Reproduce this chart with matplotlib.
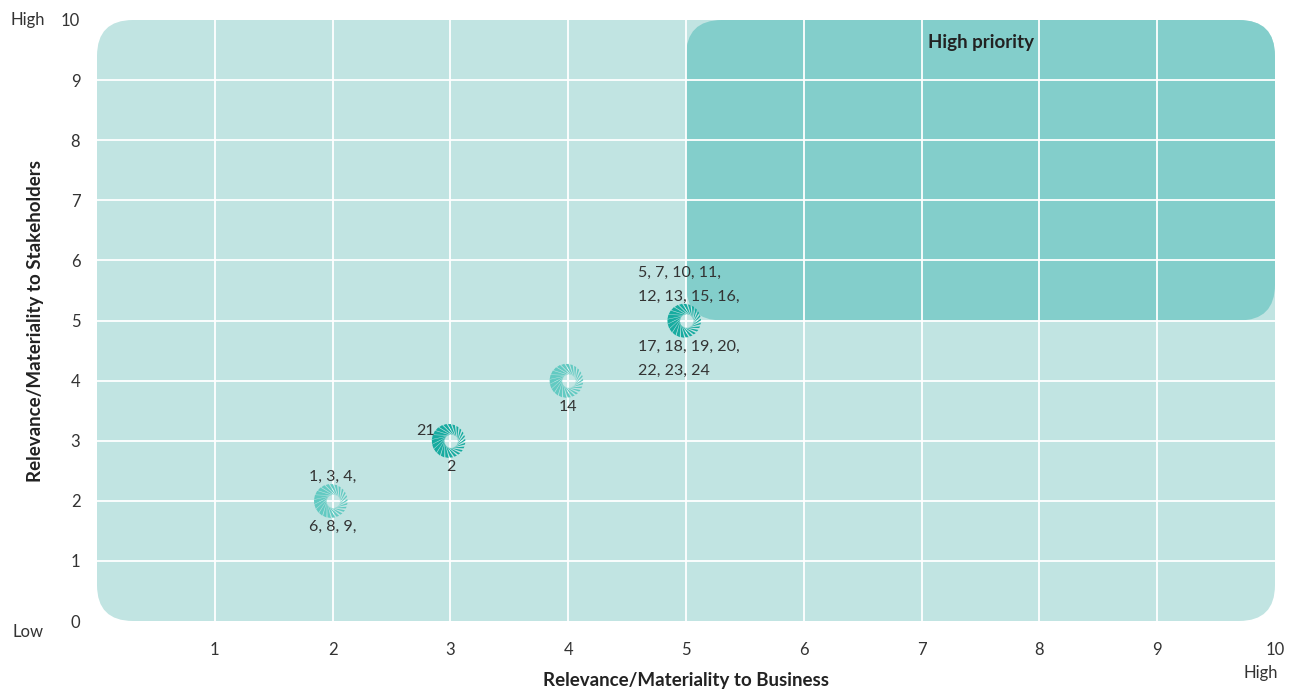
import numpy as np
import matplotlib.pyplot as plt
from matplotlib.patches import FancyBboxPatch
from matplotlib.path import Path

plt.rcParams['font.family'] = ['Lato', 'DejaVu Sans']

# Issue clusters on the materiality matrix
business = [2, 3, 4, 5]
stakeholders = [2, 3, 4, 5]
labels_above = ["1, 3, 4,", "", "", "5, 7, 10, 11,\n12, 13, 15, 16,"]
labels_below = ["6, 8, 9,", "2", "14", "17, 18, 19, 20,\n22, 23, 24"]
labels_left = ["", "21", "", ""]
marker_colors = ["#62cac2", "#17aba0", "#62cac2", "#17aba0"]

ticks_x = list(range(1, 11))
ticks_y = list(range(0, 11))

bg_light = "#c1e4e2"
bg_priority = "#83cecb"
txt = "#333333"


def swirl_marker(n=24, r_in=0.3, twist=0.85):
    # burst of slanted rays, thicker and longer on one side
    verts, codes = [], []
    for k in range(n):
        a = 2 * np.pi * k / n
        side = (1 + np.cos(a - 2.4)) / 2
        w = 0.06 + 0.06 * side
        r_out = 0.8 + 0.2 * side
        ri = r_in + 0.1 * (1 - side)
        a0, a1 = a, a + twist
        pts = [
            (ri * np.cos(a0 - w * 0.4), ri * np.sin(a0 - w * 0.4)),
            (r_out * np.cos(a1 - w), r_out * np.sin(a1 - w)),
            (r_out * np.cos(a1 + w), r_out * np.sin(a1 + w)),
            (ri * np.cos(a0 + w * 0.4), ri * np.sin(a0 + w * 0.4)),
        ]
        verts += pts + [pts[0]]
        codes += [Path.MOVETO, Path.LINETO, Path.LINETO, Path.LINETO, Path.CLOSEPOLY]
    return Path(verts, codes)


fig = plt.figure(figsize=(12.89, 6.91), dpi=100)
ax = fig.add_axes([97 / 1289, 1 - 621 / 691, 1178 / 1289, 601 / 691])
ax.set_xlim(0, 10)
ax.set_ylim(0, 10)

# rounded background panels (radius equal in pixels on both axes)
px_x = 1178 / 10
px_y = 601 / 10
aspect = px_x / px_y
ax.add_patch(FancyBboxPatch((0, 0), 10, 10, boxstyle="round,pad=0,rounding_size=%f" % (36 / px_x),
                            mutation_aspect=aspect, fc=bg_light, ec="none", zorder=0))
ax.add_patch(FancyBboxPatch((5, 5), 5, 5, boxstyle="round,pad=0,rounding_size=%f" % (36 / px_x),
                            mutation_aspect=aspect, fc=bg_priority, ec="none", zorder=0.5))

for v in ticks_x[:-1]:
    ax.axvline(v, color="white", lw=1.3, zorder=1)
for v in ticks_y[1:-1]:
    ax.axhline(v, color="white", lw=1.3, zorder=1)

ax.text(7.5, 9.62, "High priority", ha="center", va="center", fontsize=13.5,
        fontweight="bold", color="#222222", zorder=3)

marker = swirl_marker()
ax.scatter(business, stakeholders, s=720, marker=marker, c=marker_colors,
           linewidths=0, zorder=4)

for x, y, a, b, l in zip(business, stakeholders, labels_above, labels_below, labels_left):
    multi = "\n" in a or "\n" in b
    if a:
        ax.annotate(a, (x, y), xytext=(-34.5 if multi else 0, 12), textcoords="offset points",
                    ha="left" if multi else "center", va="bottom", fontsize=11.5,
                    color=txt, linespacing=1.9, zorder=5)
    if b:
        ax.annotate(b, (x, y), xytext=(-34.5 if multi else 0, -14), textcoords="offset points",
                    ha="left" if multi else "center", va="top", fontsize=11.5,
                    color=txt, linespacing=1.9, zorder=5)
    if l:
        ax.annotate(l, (x, y), xytext=(-11, 7), textcoords="offset points",
                    ha="right", va="center", fontsize=11.5, color=txt, zorder=5)

ax.set_xticks(ticks_x)
ax.set_yticks(ticks_y)
ax.tick_params(axis="both", length=0, labelsize=12, labelcolor=txt)
ax.tick_params(axis="x", pad=15)
ax.tick_params(axis="y", pad=12)
for s in ax.spines.values():
    s.set_visible(False)

ax.set_xlabel("Relevance/Materiality to Business", fontsize=13.5, fontweight="bold",
              color="#222222", labelpad=10)
ax.set_ylabel("Relevance/Materiality to Stakeholders", fontsize=13.5, fontweight="bold",
              color="#222222", labelpad=12)

fig.text(28 / 1289, 1 - 20 / 691, "High", ha="center", va="center", fontsize=12, color=txt)
fig.text(28 / 1289, 1 - 632 / 691, "Low", ha="center", va="center", fontsize=12, color=txt)
fig.text(1261 / 1289, 1 - 673 / 691, "High", ha="center", va="center", fontsize=12, color=txt)

fig.savefig("out.png", dpi=100)
